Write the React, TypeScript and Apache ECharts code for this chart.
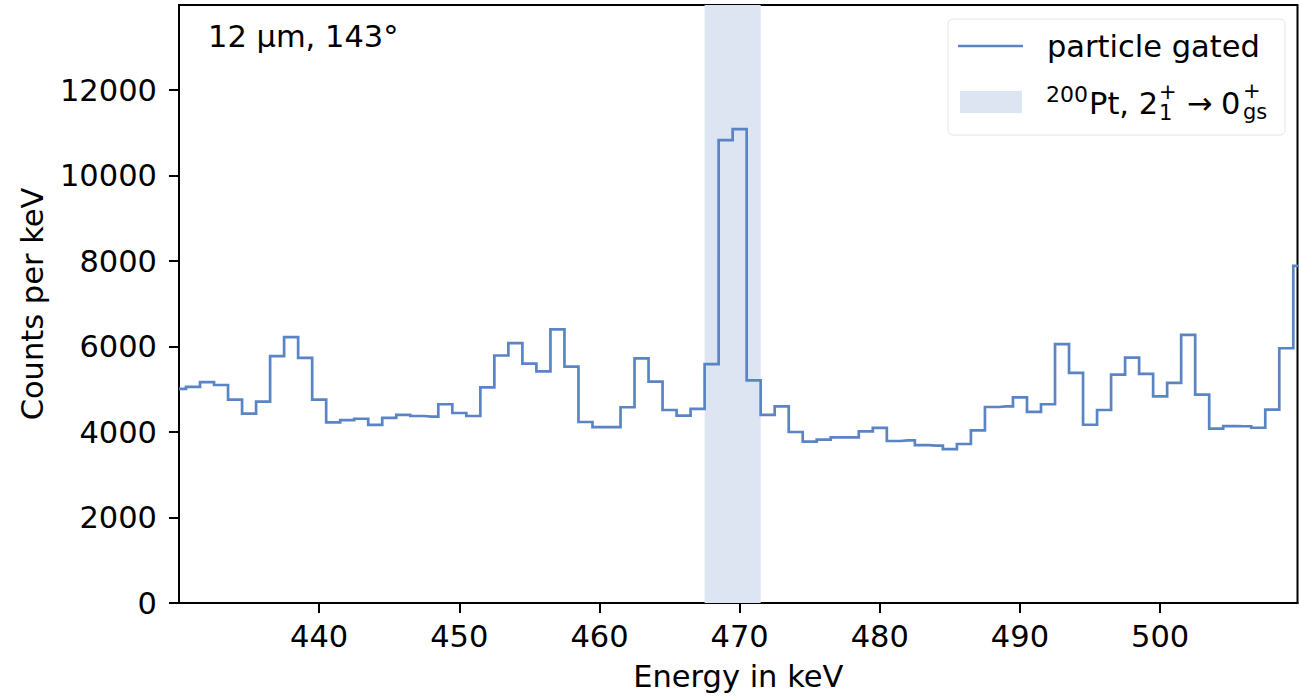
import React, { useEffect, useRef } from "react";
import * as echarts from "echarts";

// Bin centres (keV), 1 keV bins
const energies = [
  430, 431, 432, 433, 434, 435, 436, 437, 438, 439,
  440, 441, 442, 443, 444, 445, 446, 447, 448, 449,
  450, 451, 452, 453, 454, 455, 456, 457, 458, 459,
  460, 461, 462, 463, 464, 465, 466, 467, 468, 469,
  470, 471, 472, 473, 474, 475, 476, 477, 478, 479,
  480, 481, 482, 483, 484, 485, 486, 487, 488, 489,
  490, 491, 492, 493, 494, 495, 496, 497, 498, 499,
  500, 501, 502, 503, 504, 505, 506, 507, 508, 509,
  510,
];

// Counts per keV, particle gated
const counts = [
  5010, 5055, 5165, 5100, 4760, 4430, 4710, 5775, 6220, 5735,
  4760, 4225, 4280, 4310, 4165, 4330, 4400, 4375, 4360, 4650,
  4445, 4375, 5045, 5790, 6080, 5600, 5420, 6400, 5530, 4235,
  4115, 4115, 4580, 5725, 5180, 4515, 4385, 4540, 5590, 10830,
  11085, 5210, 4400, 4600, 4000, 3775, 3820, 3875, 3875, 4015,
  4095, 3790, 3805, 3695, 3680, 3600, 3720, 4040, 4585, 4600,
  4810, 4470, 4650, 6055, 5385, 4170, 4515, 5345, 5740, 5360,
  4835, 5150, 6275, 4875, 4080, 4140, 4135, 4100, 4525, 5960,
  7885,
];

const xTicks = [440, 450, 460, 470, 480, 490, 500];
const yTicks = [0, 2000, 4000, 6000, 8000, 10000, 12000];
const gateBand = [467.5, 471.5];

const FONT = "DejaVu Sans";
const LINE = "#5b84c5";
const BAND = "#dde5f3";
const F = 30.5;
const f = 21;

export default function App() {
  const ref = useRef<HTMLDivElement>(null);

  useEffect(() => {
    if (!ref.current) return;
    const chart = echarts.init(ref.current, undefined, { renderer: "svg" });

    const txt = (text: string, x: number, y: number, size: number, lh?: number) => ({
      type: "text",
      x,
      y,
      z: 100,
      style: {
        text,
        fontSize: size,
        fontFamily: FONT,
        fill: "#000",
        align: "left",
        verticalAlign: "middle",
        ...(lh ? { lineHeight: lh } : {}),
      },
    });

    const option: any = {
      animation: false,
      backgroundColor: "#ffffff",
      textStyle: { fontFamily: FONT },
      grid: {
        left: 179,
        right: 1.5,
        top: 5,
        bottom: 93,
        show: true,
        borderColor: "#000",
        borderWidth: 2,
        backgroundColor: "transparent",
      },
      xAxis: {
        type: "value",
        min: 430,
        max: 509.8,
        interval: 10,
        name: "Energy in keV",
        nameLocation: "middle",
        nameGap: 58,
        nameTextStyle: { fontSize: F, color: "#000", fontFamily: FONT },
        axisLine: { show: true, onZero: false, lineStyle: { color: "#000", width: 2 } },
        axisTick: {
          show: true,
          length: 10,
          customValues: xTicks,
          lineStyle: { color: "#000", width: 2 },
        },
        axisLabel: {
          customValues: xTicks,
          fontSize: F,
          color: "#000",
          margin: 18,
          fontFamily: FONT,
          formatter: (v: number) => String(v),
        },
        splitLine: { show: false },
      },
      yAxis: {
        type: "value",
        min: 0,
        max: 13990,
        interval: 2000,
        name: "Counts per keV",
        nameLocation: "middle",
        nameGap: 131,
        nameRotate: 90,
        nameTextStyle: { fontSize: F, color: "#000", fontFamily: FONT },
        axisLine: { show: true, onZero: false, lineStyle: { color: "#000", width: 2 } },
        axisTick: {
          show: true,
          length: 10,
          customValues: yTicks,
          lineStyle: { color: "#000", width: 2 },
        },
        axisLabel: {
          customValues: yTicks,
          fontSize: F,
          color: "#000",
          margin: 22,
          fontFamily: FONT,
          formatter: (v: number) => String(v),
        },
        splitLine: { show: false },
      },
      series: [
        {
          type: "line",
          name: "particle gated",
          step: "middle",
          data: energies.map((e, i) => [e, counts[i]]),
          symbol: "none",
          showSymbol: false,
          clip: true,
          lineStyle: { color: LINE, width: 2.7, join: "miter", cap: "butt" },
          itemStyle: { color: LINE },
          markArea: {
            silent: true,
            itemStyle: { color: BAND },
            data: [[{ xAxis: gateBand[0] }, { xAxis: gateBand[1] }]],
          },
        },
      ],
      graphic: [
        // annotation
        txt("12 \u00b5m, 143\u00b0", 208, 36.5, F),
        // legend frame
        {
          type: "rect",
          z: 90,
          shape: { x: 948, y: 19, width: 337, height: 116, r: 5 },
          style: { fill: "rgba(255,255,255,0.8)", stroke: "#e4e4e4", lineWidth: 1 },
        },
        {
          type: "line",
          z: 100,
          shape: { x1: 958, y1: 46, x2: 1023, y2: 46 },
          style: { stroke: LINE, lineWidth: 2.7 },
        },
        txt("particle gated", 1047, 46.5, F),
        {
          type: "rect",
          z: 100,
          shape: { x: 960, y: 91, width: 62, height: 22 },
          style: { fill: BAND },
        },
        txt("200", 1046, 94, 22, 14),
        txt("Pt, 2", 1089, 103.5, F),
        txt("+\n1", 1159, 102.5, f, 21),
        txt("\u2192", 1187, 103, F),
        txt("0", 1221, 103.5, F),
        txt("+\ngs", 1243, 101, f, 21),
      ],
    };

    chart.setOption(option);
    return () => chart.dispose();
  }, []);

  return (
    <div
      ref={ref}
      style={{ position: "fixed", left: 0, top: 0, width: 1299, height: 697, background: "#fff" }}
    />
  );
}
